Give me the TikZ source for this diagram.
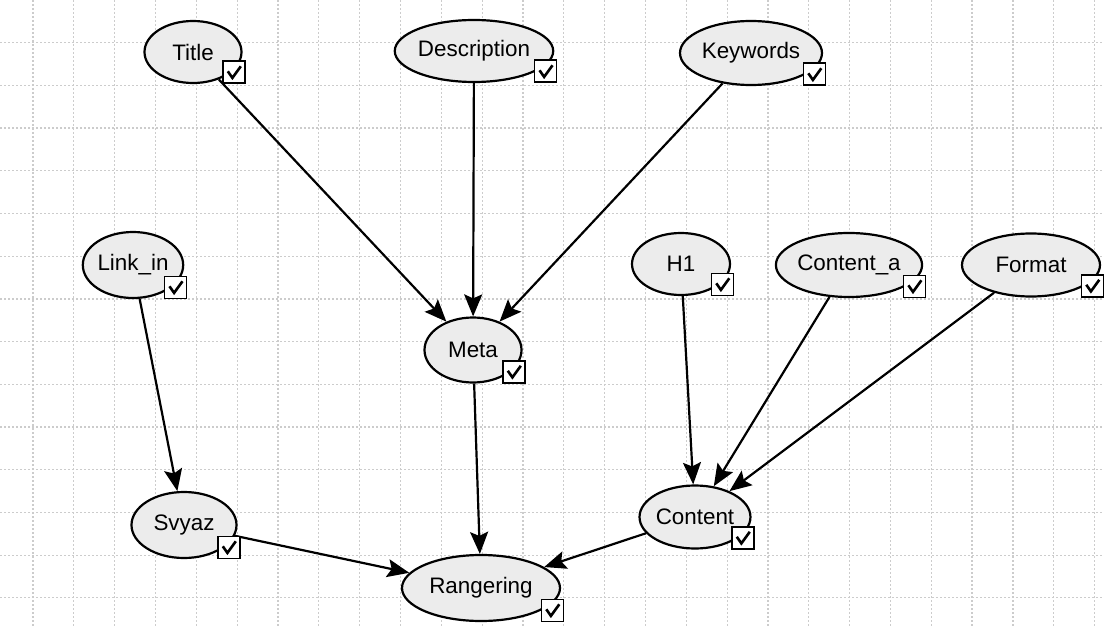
\documentclass[tikz,border=0pt]{standalone}
\usepackage{fontspec}
\setmainfont{Liberation Sans}
\usetikzlibrary{arrows.meta,shapes.geometric}
\tikzset{>={Stealth[length=11pt,width=9pt,inset=2pt]}}

\begin{document}
\begin{tikzpicture}[x=0.5pt,y=-0.5pt,
  var/.style={ellipse,draw=black,line width=1.1pt,fill=gray!15,inner sep=0pt,minimum height=31pt,font=\fontsize{11.2}{13}\selectfont},
  chk/.style={draw=black,line width=0.8pt,fill=white,minimum size=11pt,inner sep=0pt,anchor=south east,xshift=1.5pt},
  tick/.style={line width=1.3pt},
  gridline/.style={gray!40,line width=0.6pt,dash pattern=on 1pt off 1pt},
  link/.style={->,line width=1.1pt}]
\useasboundingbox (0,0) rectangle (1104,626);
\fill[white] (0,0) rectangle (1104,626);
\foreach \i in {0,...,26}
\draw[gridline] ({33+40.83*\i},0) -- ({33+40.83*\i},626);
\foreach \j in {1,...,14}
\draw[gridline] (0,{42.7*\j}) -- (1104,{42.7*\j});
% variables
\node[var,minimum width=48.5pt] (title) at (193,52) {Title};
\node[var,minimum width=79pt] (descr) at (474,51) {Description};
\node[var,minimum width=71pt,minimum height=32pt] (keyw) at (751,53) {Keywords};
\node[var,minimum width=47pt,minimum height=33pt] (linkin) at (133,265) {Link\_in};
\node[var,minimum width=49pt] (h1) at (681,264) {H1};
\node[var,minimum width=73pt,minimum height=32pt] (conta) at (849,265) {Content\_a};
\node[var,minimum width=69pt,minimum height=31.5pt] (format) at (1031,265) {Format};
\node[var,minimum width=48.5pt,minimum height=32.5pt] (meta) at (473,350) {Meta};
\node[var,minimum width=52.5pt,minimum height=33pt] (svyaz) at (184,525) {Svyaz};
\node[var,minimum width=52.5pt,minimum height=31.5pt] (content) at (695,517) {Content};
\node[var,minimum width=79pt,minimum height=33pt] (rang) at (481,588) {Rangering};
% links
\draw[link] (title) -- (meta);
\draw[link] (descr) -- (meta);
\draw[link] (keyw) -- (meta);
\draw[link] (linkin) -- (svyaz);
\draw[link] (meta) -- (rang);
\draw[link] (h1) -- (content);
\draw[link] (conta) -- (content);
\draw[link] (format) -- (content);
\draw[link] (svyaz) -- (rang);
\draw[link] (content) -- (rang);
% check boxes
\foreach \n in {title,descr,keyw,linkin,h1,conta,format,meta,svyaz,content,rang}{
\node[chk] (\n-chk) at (\n.east |- \n.south) {};
\draw[tick] ([shift={(-3pt,0.5pt)}]\n-chk.center) -- ([shift={(-0.7pt,-2.8pt)}]\n-chk.center) -- ([shift={(3.5pt,3pt)}]\n-chk.center);
}
\end{tikzpicture}
\end{document}
